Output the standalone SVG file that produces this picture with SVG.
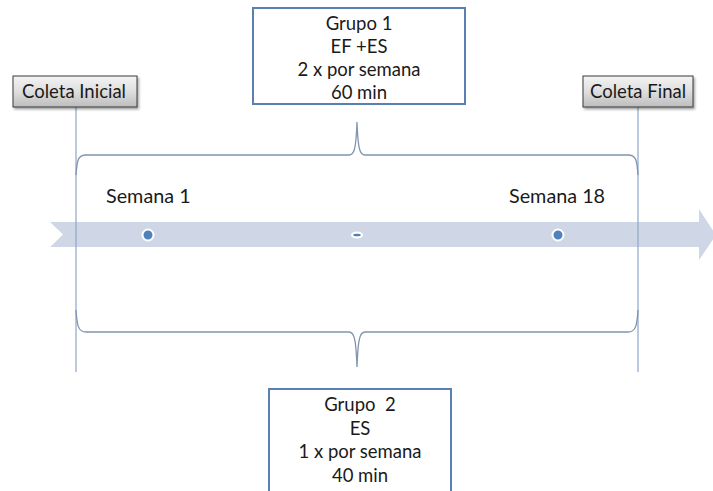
<svg xmlns="http://www.w3.org/2000/svg" width="713" height="491" viewBox="0 0 713 491">
<defs>
<linearGradient id="gray" x1="0" y1="0" x2="0" y2="1">
<stop offset="0" stop-color="#f4f4f4"/>
<stop offset="0.5" stop-color="#dedede"/>
<stop offset="1" stop-color="#bdbdbd"/>
</linearGradient>
<filter id="sh" x="-10%" y="-20%" width="130%" height="160%">
<feDropShadow dx="1.5" dy="2" stdDeviation="1.2" flood-color="#000" flood-opacity="0.35"/>
</filter>
</defs>
<style>
.t{font-family:Lato,"Open Sans","Liberation Sans",sans-serif;font-size:18.5px;fill:#1a1a1a;text-anchor:middle;white-space:pre}
.tl{font-family:Lato,"Open Sans","Liberation Sans",sans-serif;font-size:19.8px;fill:#1a1a1a}
.coleta{fill:url(#gray);stroke:#3a3a3a;stroke-width:1;filter:url(#sh)}
.grp{fill:#fff;stroke:#5a7fb2;stroke-width:2}
.vl{stroke:#8ea6c8;stroke-width:1.2;fill:none}
.br{stroke:#8095b0;stroke-width:1.3;fill:none}
.dot{fill:#4f81bd;stroke:#fff;stroke-width:2}
</style>
<g id="timeline">
<path d="M50,222 L699,222 L699,209 L716,235 L699,260 L699,247 L50,247 L63,234.5 Z" fill="#cfd7e6"/>
<circle class="dot" cx="148" cy="235" r="5.5"/>
<ellipse cx="357" cy="235" rx="6" ry="3.5" fill="#fff"/>
<ellipse cx="357" cy="235" rx="3.8" ry="1.3" fill="#4f81bd"/>
<circle class="dot" cx="558" cy="235" r="5.5"/>
</g>
<g id="connectors">
<line class="vl" x1="76" y1="107" x2="76" y2="372"/>
<line class="vl" x1="638" y1="107" x2="638" y2="372"/>
<path class="br" d="M76,175 C77,160 78,155 86,155 L349,155 C354,155 356,150 357,122 C358,150 360,155 365,155 L628,155 C636,155 637,160 638,175"/>
<path class="br" d="M76,310 C77,325 78,332 86,332 L349,332 C354,332 356,338 357,367 C358,338 360,332 365,332 L628,332 C636,332 637,325 638,310"/>
</g>
<g id="coleta-inicial">
<rect class="coleta" x="13" y="76" width="124" height="31"/>
<text class="t" x="74" y="98">Coleta Inicial</text>
</g>
<g id="coleta-final">
<rect class="coleta" x="583" y="76" width="110" height="31"/>
<text class="t" x="638" y="98">Coleta Final</text>
</g>
<g id="grupo1">
<rect class="grp" x="253" y="8" width="212" height="96"/>
<text class="t" x="359" y="30">Grupo 1</text>
<text class="t" x="359" y="53">EF +ES</text>
<text class="t" x="359" y="76">2 x por semana</text>
<text class="t" x="359" y="99">60 min</text>
</g>
<g id="grupo2">
<rect class="grp" x="269" y="389" width="182" height="106"/>
<text class="t" x="360" y="411">Grupo  2</text>
<text class="t" x="360" y="435">ES</text>
<text class="t" x="360" y="458">1 x por semana</text>
<text class="t" x="360" y="482">40 min</text>
</g>
<g id="semana1">
<text class="tl" x="106" y="203">Semana 1</text>
</g>
<g id="semana18">
<text class="tl" x="509" y="203">Semana 18</text>
</g>
</svg>
